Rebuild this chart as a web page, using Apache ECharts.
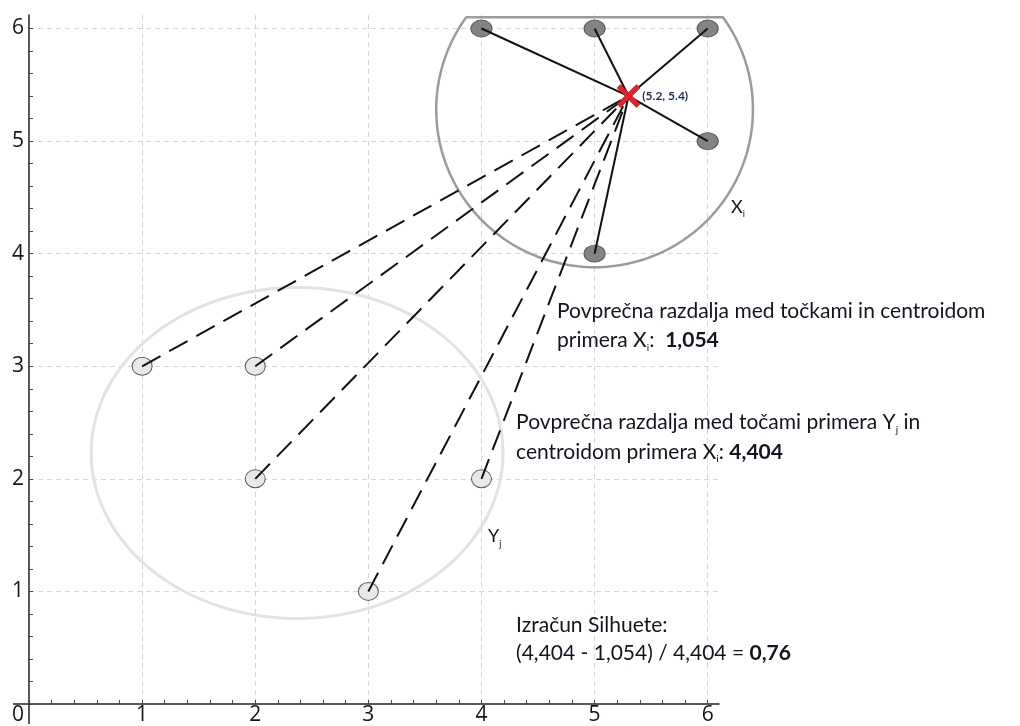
<!DOCTYPE html>
<html><head><meta charset="utf-8">
<script src="https://cdn.jsdelivr.net/npm/echarts@6/dist/echarts.min.js"></script>
<style>html,body{margin:0;padding:0;background:#fff}#c{width:1020px;height:726px}</style>
</head><body><div id="c"></div>
<script>
// ---- data ----
const xiPoints = [[4, 6], [5, 6], [6, 6], [6, 5], [5, 4]];
const yjPoints = [[1, 3], [2, 3], [2, 2], [4, 2], [3, 1]];
const centroid = [5.3, 5.4];
const centroidLabel = '(5.2, 5.4)';
const xTickValues = [0, 1, 2, 3, 4, 5, 6];
const yTickValues = [1, 2, 3, 4, 5, 6];
const xiCluster = [5.0, 5.28, 1.4, 6.1];     // cx, cy, r, flat top
const yjCluster = [2.37, 2.23, 1.82, 1.47];  // cx, cy, rx, ry
const avgIntra = '1,054';
const avgInter = '4,404';
const silhouette = '0,76';

// ---- chart ----
const FONT = 'Lato';
const AXFONT = 'Open Sans';
const TXT = '#141420';
const chart = echarts.init(document.getElementById('c'), null, {renderer: 'canvas'});
const minorVals = [];
for (let k = 0; k <= 30; k++) minorVals.push(+(k * 0.2).toFixed(1));

function outline(params, api, kind) {
  const pts = [];
  const N = 240;
  for (let k = 0; k <= N; k++) {
    const t = k / N * 2 * Math.PI;
    let x, y;
    if (kind === 'xi') {
      x = xiCluster[0] + xiCluster[2] * Math.cos(t);
      y = xiCluster[1] + xiCluster[2] * Math.sin(t);
      if (y > xiCluster[3]) y = xiCluster[3];
    } else {
      x = yjCluster[0] + yjCluster[2] * Math.cos(t);
      y = yjCluster[1] + yjCluster[3] * Math.sin(t);
    }
    pts.push(api.coord([x, y]));
  }
  return {
    type: 'polygon', shape: {points: pts},
    style: kind === 'xi'
      ? {fill: 'none', stroke: '#9b9b9b', lineWidth: 2.5}
      : {fill: 'none', stroke: '#e2e2e2', lineWidth: 3}
  };
}

const gridLine = {show: true, showMaxLine: false, showMinLine: false,
  lineStyle: {color: '#d6d6d6', width: 1, type: [5, 4]}};
const axisLineStyle = {show: true, onZero: false, lineStyle: {color: '#222', width: 1.5}};

const option = {
  animation: false,
  backgroundColor: '#fff',
  grid: {left: 29, right: 301, top: 15, bottom: 19, containLabel: false},
  xAxis: [{
    type: 'value', min: 0, max: 6.1, interval: 1, position: 'bottom',
    axisLine: axisLineStyle, axisTick: {show: false}, minorTick: {show: false},
    splitLine: gridLine,
    axisLabel: {
      show: true, showMaxLabel: false, margin: 1, fontSize: 21, fontFamily: AXFONT, color: TXT,
      formatter: v => (xTickValues.indexOf(v) < 0 ? '' : (v === 0 ? '{o|0}' : String(v))),
      rich: {o: {fontSize: 21, fontFamily: AXFONT, color: TXT, padding: [0, 22, 0, 0]}}
    }
  }, {
    type: 'value', min: 0, max: 6.1, interval: 0.2, position: 'bottom',
    axisLine: {show: false}, axisLabel: {show: false}, splitLine: {show: false},
    axisTick: {show: true, inside: true, length: 4, customValues: minorVals,
      lineStyle: {color: '#444', width: 1}}
  }],
  yAxis: [{
    type: 'value', min: 0, max: 6.12, interval: 1, position: 'left',
    axisLine: axisLineStyle, axisTick: {show: false}, minorTick: {show: false},
    splitLine: gridLine,
    axisLabel: {
      show: true, showMinLabel: false, showMaxLabel: false, margin: 5, fontSize: 21,
      fontFamily: AXFONT, color: TXT,
      formatter: v => (yTickValues.indexOf(v) < 0 ? '' : String(v))
    }
  }, {
    type: 'value', min: 0, max: 6.12, interval: 0.2, position: 'left',
    axisLine: {show: false}, axisLabel: {show: false}, splitLine: {show: false},
    axisTick: {show: true, inside: true, length: 4, customValues: minorVals,
      lineStyle: {color: '#444', width: 1}}
  }],
  series: [
    {type: 'custom', name: 'Xi outline', data: [[xiCluster[0], xiCluster[1]]], z: 1,
      renderItem: (p, a) => outline(p, a, 'xi'), silent: true},
    {type: 'custom', name: 'Yj outline', data: [[yjCluster[0], yjCluster[1]]], z: 1,
      renderItem: (p, a) => outline(p, a, 'yj'), silent: true},
    {type: 'scatter', name: 'Xi', data: xiPoints, symbol: 'circle', symbolSize: [21, 17], z: 2,
      itemStyle: {color: '#838383', borderColor: '#585858', borderWidth: 1, opacity: 1}},
    {type: 'scatter', name: 'Yj', data: yjPoints, symbol: 'circle', symbolSize: [20, 18], z: 2,
      itemStyle: {color: '#e8e8e8', borderColor: '#5c5c5c', borderWidth: 1, opacity: 1}},
    {type: 'lines', coordinateSystem: 'cartesian2d', z: 3,
      data: xiPoints.map(p => ({coords: [p, centroid]})),
      lineStyle: {color: '#111', width: 2, opacity: 1, type: 'solid'}, symbol: 'none'},
    {type: 'lines', coordinateSystem: 'cartesian2d', z: 3,
      data: yjPoints.map(p => ({coords: [p, centroid]})),
      lineStyle: {color: '#111', width: 2, opacity: 1, type: [21, 10]}, symbol: 'none'},
    {type: 'scatter', name: 'centroid', data: [centroid], z: 5,
      symbol: 'path://M1.5,0 L5,3.5 L8.5,0 L10,1.5 L6.5,5 L10,8.5 L8.5,10 L5,6.5 L1.5,10 L0,8.5 L3.5,5 L0,1.5 Z',
      symbolSize: 23,
      itemStyle: {color: '#e3222b', borderColor: '#b0141b', borderWidth: 0.6, opacity: 1},
      label: {show: true, position: 'right', distance: 2, formatter: centroidLabel,
        fontSize: 12, fontWeight: 'bold', fontFamily: FONT, color: '#1f2d55'}}
  ]
};
chart.setOption(option);

// ---- annotations anchored in data coordinates ----
const rich = {
  s: {fontSize: 10, fontFamily: FONT, fill: TXT, verticalAlign: 'bottom'},
  b: {fontSize: 21, fontFamily: FONT, fontWeight: 'bold', fill: TXT}
};
const richSmall = {s: {fontSize: 9, fontFamily: FONT, fill: TXT, verticalAlign: 'bottom'}};
const annotations = [
  {at: [4.668, 3.49], text: 'Povprečna razdalja med točkami in centroidom', size: 21},
  {at: [4.668, 3.228], text: 'primera X{s|i}:  {b|' + avgIntra + '}', size: 21},
  {at: [4.306, 2.50], text: 'Povprečna razdalja med točami primera Y{s|j} in', size: 21},
  {at: [4.306, 2.238], text: 'centroidom primera X{s|i}: {b|' + avgInter + '}', size: 21},
  {at: [4.306, 0.70], text: 'Izračun Silhuete:', size: 21},
  {at: [4.306, 0.455], text: '(' + avgInter + ' - ' + avgIntra + ') / ' + avgInter + ' = {b|' + silhouette + '}', size: 21},
  {at: [6.207, 4.416], text: 'X{s|i}', size: 18, small: true},
  {at: [4.058, 1.487], text: 'Y{s|j}', size: 18, small: true}
];
const g = annotations.map(a => {
  const p = chart.convertToPixel({xAxisIndex: 0, yAxisIndex: 0}, a.at);
  return {
    type: 'text', x: p[0], y: p[1], z: 10, silent: true,
    style: {text: a.text, fontSize: a.size, fontFamily: FONT, fill: TXT,
      verticalAlign: 'middle', align: 'left', lineHeight: 24,
      rich: a.small ? richSmall : rich}
  };
});
const o = chart.convertToPixel({xAxisIndex: 0, yAxisIndex: 0}, [0, 0]);
g.push({type: 'line', z: 10, silent: true, shape: {x1: o[0] - 16, y1: o[1], x2: o[0], y2: o[1]},
  style: {stroke: '#222', lineWidth: 1.5}});
g.push({type: 'line', z: 10, silent: true, shape: {x1: o[0], y1: o[1], x2: o[0], y2: o[1] + 20},
  style: {stroke: '#222', lineWidth: 1.5}});
chart.setOption({graphic: g});
</script></body></html>
